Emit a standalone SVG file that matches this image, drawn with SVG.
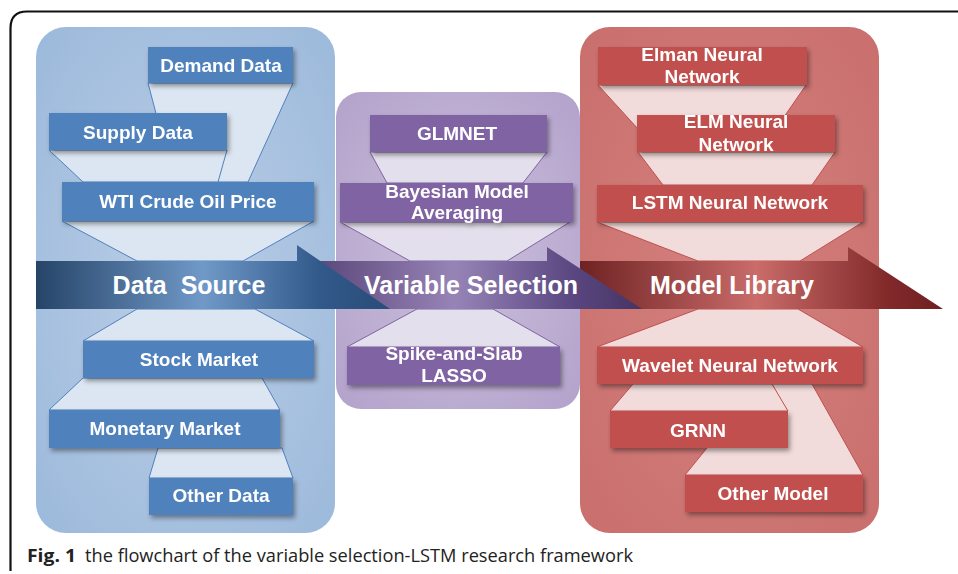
<svg xmlns="http://www.w3.org/2000/svg" width="958" height="574" viewBox="0 0 958 574">
<defs>
<style>
.bt{font-family:"Liberation Sans",Arial,sans-serif;font-weight:bold;font-size:19px;fill:#fff;text-anchor:middle}
.at{font-family:"Liberation Sans",Arial,sans-serif;font-weight:bold;font-size:25px;fill:#fff;text-anchor:middle}
.bb{fill:#4f81bd}
.pb{fill:#8064a2}
.rb{fill:#c0504d}
.bc{fill:#dce6f2;stroke:#4f81bd;stroke-width:1}
.pc{fill:#e4dfec;stroke:#8064a2;stroke-width:1}
.rc{fill:#f2dcdb;stroke:#c0504d;stroke-width:1}
.cap{font-family:"Open Sans","Noto Sans",sans-serif;font-size:18px;fill:#222}
</style>
<filter id="sh" x="-10%" y="-20%" width="125%" height="160%">
<feDropShadow dx="2" dy="3" stdDeviation="2.5" flood-color="#000" flood-opacity="0.4"/>
</filter>
<radialGradient id="gBlueP" cx="0.5" cy="0.5" r="0.7">
<stop offset="0" stop-color="#bccfe7"/>
<stop offset="1" stop-color="#9cb9db"/>
</radialGradient>
<radialGradient id="gPurP" cx="0.5" cy="0.5" r="0.7">
<stop offset="0" stop-color="#cbc0dc"/>
<stop offset="1" stop-color="#b3a2cb"/>
</radialGradient>
<radialGradient id="gRedP" cx="0.5" cy="0.5" r="0.7">
<stop offset="0" stop-color="#d4817f"/>
<stop offset="1" stop-color="#c96f6d"/>
</radialGradient>
<linearGradient id="gBlueA" gradientUnits="userSpaceOnUse" x1="36" y1="0" x2="390" y2="0">
<stop offset="0" stop-color="#264468"/>
<stop offset="0.47" stop-color="#7099c8"/>
<stop offset="0.8" stop-color="#31598a"/>
<stop offset="1" stop-color="#2a4c78"/>
</linearGradient>
<linearGradient id="gPurA" gradientUnits="userSpaceOnUse" x1="300" y1="0" x2="642" y2="0">
<stop offset="0" stop-color="#553f73"/>
<stop offset="0.45" stop-color="#9784b7"/>
<stop offset="0.8" stop-color="#5a4680"/>
<stop offset="1" stop-color="#463463"/>
</linearGradient>
<linearGradient id="gRedA" gradientUnits="userSpaceOnUse" x1="570" y1="0" x2="943" y2="0">
<stop offset="0" stop-color="#6a1e1f"/>
<stop offset="0.5" stop-color="#c96c6a"/>
<stop offset="0.85" stop-color="#82292a"/>
<stop offset="1" stop-color="#6e2022"/>
</linearGradient>
</defs>

<rect x="0" y="0" width="958" height="574" fill="#fff"/>
<path d="M 10.5 571 V 28 Q 10.5 11.5 27 11.5 H 958" fill="none" stroke="#111" stroke-width="2.2"/>

<g id="panels">
<rect id="panel-data" x="36" y="27" width="299" height="506" rx="30" fill="url(#gBlueP)"/>
<rect id="panel-variable" x="336" y="92" width="244" height="317" rx="25" fill="url(#gPurP)"/>
<rect id="panel-model" x="580" y="27" width="299" height="506" rx="30" fill="url(#gRedP)"/>
</g>

<g id="connectors">
<polygon class="bc" points="148,83 293,83 248,182 174,182"/>
<polygon class="bc" points="49,150 227,150 218,182 83,182"/>
<polygon class="bc" points="62,221 314,221 243,261 137,261"/>
<polygon class="bc" points="137,309 255,309 314,341 83,341"/>
<polygon class="bc" points="83,378 262,378 280,410 49,410"/>
<polygon class="bc" points="158,448 282,448 293,478 149,478"/>

<polygon class="pc" points="370,152 547,152 523,183 387,183"/>
<polygon class="pc" points="340,222 570,222 507,261 410,261"/>
<polygon class="pc" points="417,309 493,309 560,347 347,347"/>

<polygon class="rc" points="598,85 806,85 775,130 639,130"/>
<polygon class="rc" points="638,152 835,152 812,185 663,185"/>
<polygon class="rc" points="597,222 863,222 800,261 698,261"/>
<polygon class="rc" points="698,309 798,309 863,347 597,347"/>
<polygon class="rc" points="759,384 812,384 863,475 685,475"/>
<polygon class="rc" points="633,384 772,384 788,411 610,411"/>
</g>

<g id="stage-model-library">
<polygon points="580,261 848,261 848,247 943,309 580,309" fill="url(#gRedA)"/>
<text class="at" x="732" y="294">Model Library</text>
</g>
<g id="stage-variable-selection">
<polygon points="278,261 547,261 547,247 642,309 278,309" fill="url(#gPurA)"/>
<text class="at" x="471" y="294">Variable Selection</text>
</g>
<g id="stage-data-source">
<polygon points="36,261 297,261 297,245 390,309 36,309" fill="url(#gBlueA)"/>
<text class="at" x="189" y="294" xml:space="preserve">Data  Source</text>
</g>

<g id="demand-data" filter="url(#sh)"><rect class="bb" x="148" y="47" width="145" height="36"/><text class="bt" x="221" y="72">Demand Data</text></g>
<g id="supply-data" filter="url(#sh)"><rect class="bb" x="49" y="113" width="178" height="37"/><text class="bt" x="138" y="139">Supply Data</text></g>
<g id="wti-price" filter="url(#sh)"><rect class="bb" x="62" y="182" width="252" height="39"/><text class="bt" x="188" y="208">WTI Crude Oil Price</text></g>
<g id="stock-market" filter="url(#sh)"><rect class="bb" x="83" y="341" width="231" height="37"/><text class="bt" x="199" y="366">Stock Market</text></g>
<g id="monetary-market" filter="url(#sh)"><rect class="bb" x="49" y="410" width="231" height="38"/><text class="bt" x="165" y="435">Monetary Market</text></g>
<g id="other-data" filter="url(#sh)"><rect class="bb" x="149" y="478" width="144" height="37"/><text class="bt" x="221" y="502">Other Data</text></g>

<g id="glmnet" filter="url(#sh)"><rect class="pb" x="370" y="115" width="177" height="37"/><text class="bt" x="457" y="140">GLMNET</text></g>
<g id="bma" filter="url(#sh)"><rect class="pb" x="340" y="183" width="233" height="39"/><text class="bt" x="457" y="198">Bayesian Model</text><text class="bt" x="457" y="219">Averaging</text></g>
<g id="spike-slab" filter="url(#sh)"><rect class="pb" x="347" y="347" width="213" height="38"/><text class="bt" x="454" y="360">Spike-and-Slab</text><text class="bt" x="454" y="382">LASSO</text></g>

<g id="elman" filter="url(#sh)"><rect class="rb" x="598" y="47" width="209" height="38"/><text class="bt" x="702" y="61">Elman Neural</text><text class="bt" x="702" y="83">Network</text></g>
<g id="elm" filter="url(#sh)"><rect class="rb" x="637" y="115" width="198" height="37"/><text class="bt" x="736" y="128">ELM Neural</text><text class="bt" x="736" y="151">Network</text></g>
<g id="lstm" filter="url(#sh)"><rect class="rb" x="597" y="185" width="266" height="37"/><text class="bt" x="730" y="209">LSTM Neural Network</text></g>
<g id="wavelet" filter="url(#sh)"><rect class="rb" x="597" y="347" width="266" height="37"/><text class="bt" x="730" y="372">Wavelet Neural Network</text></g>
<g id="grnn" filter="url(#sh)"><rect class="rb" x="610" y="411" width="178" height="37"/><text class="bt" x="698" y="437">GRNN</text></g>
<g id="other-model" filter="url(#sh)"><rect class="rb" x="685" y="475" width="178" height="37"/><text class="bt" x="773" y="500">Other Model</text></g>

<g id="caption">
<text class="cap" x="27" y="562" font-weight="bold" textLength="49" lengthAdjust="spacingAndGlyphs">Fig. 1</text>
<text class="cap" x="85" y="562" textLength="548" lengthAdjust="spacingAndGlyphs">the flowchart of the variable selection-LSTM research framework</text>
</g>
</svg>
